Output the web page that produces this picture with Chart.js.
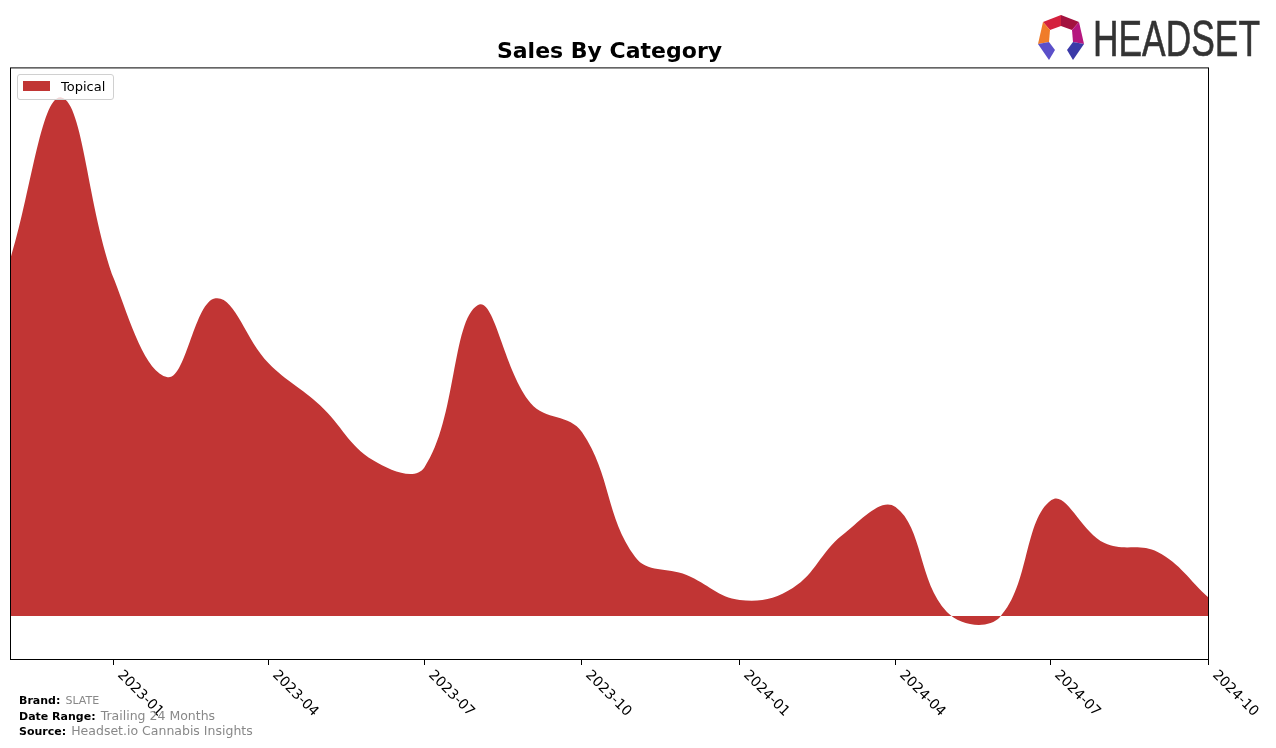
<!DOCTYPE html>
<html>
<head>
<meta charset="utf-8">
<script src="https://cdn.jsdelivr.net/npm/chart.js@4/dist/chart.umd.min.js"></script>
<style>
  body { margin: 0; background: #fff; overflow: hidden; font-family: "DejaVu Sans", sans-serif; }
  #wrap { position: relative; width: 1276px; height: 748px; }
  #legend { position: absolute; left: 17px; top: 74px; width: 95px; height: 24px;
            border: 1px solid #d0d0d0; border-radius: 3px; background: rgba(255,255,255,0.8); }
  #legend .sw { position: absolute; left: 5px; top: 6px; width: 27px; height: 10px; background: rgb(193,53,52); }
  #legend .lb { position: absolute; left: 43px; top: 4px; font-size: 13px; color: #000; }
  .foot { position: absolute; left: 19px; white-space: nowrap; }
  .foot b { font-size: 11px; color: #000; }
  .foot span { color: #888; }
</style>
</head>
<body>
<div id="wrap">
  <canvas id="chart"></canvas>
  <div id="legend"><div class="sw"></div><div class="lb">Topical</div></div>
  <div class="foot" style="top:689px"><b>Brand:</b> <span style="font-size:11px">SLATE</span></div>
  <div class="foot" style="top:705px"><b>Date Range:</b> <span style="font-size:12.5px">Trailing 24 Months</span></div>
  <div class="foot" style="top:720px"><b>Source:</b> <span style="font-size:12.5px">Headset.io Cannabis Insights</span></div>
  <svg style="position:absolute;left:1030px;top:10px" width="240" height="56" viewBox="1030 10 240 56">
    <polygon points="1043,22 1061,15 1061,26 1050,30" fill="#d4213d"/>
    <polygon points="1061,15 1079,22 1072,30 1061,26" fill="#a3123f"/>
    <polygon points="1043,22 1050,30 1049,42 1038,44" fill="#f07c2a"/>
    <polygon points="1079,22 1084,44 1073,42 1072,30" fill="#b5177f"/>
    <polygon points="1038,44 1049,42 1055,50 1049,60" fill="#5b4fc9"/>
    <polygon points="1084,44 1073,42 1067,50 1073,60" fill="#3b3aa8"/>
    <text x="1093" y="56" font-family="Liberation Sans, sans-serif" font-size="50" fill="#333"
          stroke="#333" stroke-width="0.6"
          textLength="167" lengthAdjust="spacingAndGlyphs">HEADSET</text>
  </svg>
</div>
<script>
const months = ['2022-11', '2022-12', '2023-01', '2023-02', '2023-03', '2023-04',
                '2023-05', '2023-06', '2023-07', '2023-08', '2023-09', '2023-10',
                '2023-11', '2023-12', '2024-01', '2024-02', '2024-03', '2024-04',
                '2024-05', '2024-06', '2024-07', '2024-08', '2024-09', '2024-10'];
const topicalSales = [3560, 5190, 3360, 2390, 3180, 2530,
                      2110, 1560, 1490, 3110, 2130, 1840,
                      590, 410, 160, 280, 810, 1090,
                      40, -10, 1160, 730, 640, 180];
const tickLabels = ['2023-01', '2023-04', '2023-07', '2023-10', '2024-01', '2024-04', '2024-07', '2024-10'];

// x position = days since the first month
const DAY = 86400000;
const start = Date.parse(months[0] + '-01');
function dayOf(m) {
    return (Date.parse(m + '-01') - start) / DAY;
}

const wrap = document.getElementById('wrap');

// frame, tick marks and slanted tick labels (matplotlib style)
const frameAndTicks = {
    id: 'frameAndTicks',
    afterDraw(chart) {
        const ctx = chart.ctx;
        const a = chart.chartArea;
        const x = chart.scales.x;
        ctx.save();
        ctx.strokeStyle = '#000';
        ctx.lineWidth = 1;
        ctx.strokeRect(a.left + 0.5, a.top + 0.5, a.right - a.left - 1, a.bottom - a.top - 1);
        ctx.font = '14px "DejaVu Sans"';
        ctx.fillStyle = '#000';
        ctx.textAlign = 'left';
        ctx.textBaseline = 'top';
        tickLabels.forEach((lab) => {
            const px = Math.round(x.getPixelForValue(dayOf(lab))) - 0.5;
            ctx.beginPath();
            ctx.moveTo(px, a.bottom);
            ctx.lineTo(px, a.bottom + 5);
            ctx.stroke();
            ctx.save();
            ctx.translate(px + 11, a.bottom + 8);
            ctx.rotate(Math.PI / 4);
            ctx.fillText(lab, 0, 0);
            ctx.restore();
        });
        ctx.restore();
    }
};

const config = {
    type: 'line',
    data: {
        datasets: [{
            label: 'Topical',
            data: topicalSales.map((v, i) => ({ x: dayOf(months[i]), y: v })),
            fill: 'origin',
            backgroundColor: 'rgb(193,53,52)',
            borderWidth: 0,
            pointRadius: 0,
            tension: 0.4
        }]
    },
    options: {
        responsive: true,
        maintainAspectRatio: false,
        animation: false,
        layout: { padding: { left: 10, right: 67, top: 0, bottom: 0 } },
        plugins: {
            legend: { display: false },
            tooltip: { enabled: false },
            title: {
                display: true,
                text: 'Sales By Category',
                color: '#000',
                font: { family: 'DejaVu Sans', size: 22, weight: 'bold' },
                padding: { top: 39, bottom: 2 }
            }
        },
        scales: {
            x: {
                type: 'linear',
                min: 0,
                max: dayOf(months[months.length - 1]),
                grid: { display: false },
                border: { display: false },
                ticks: { display: false },
                afterFit: (scale) => { scale.height = 88; }
            },
            y: {
                display: false,
                min: -440,
                max: 5490
            }
        }
    },
    plugins: [frameAndTicks]
};

const myChart = new Chart(document.getElementById('chart'), config);
</script>
</body>
</html>
